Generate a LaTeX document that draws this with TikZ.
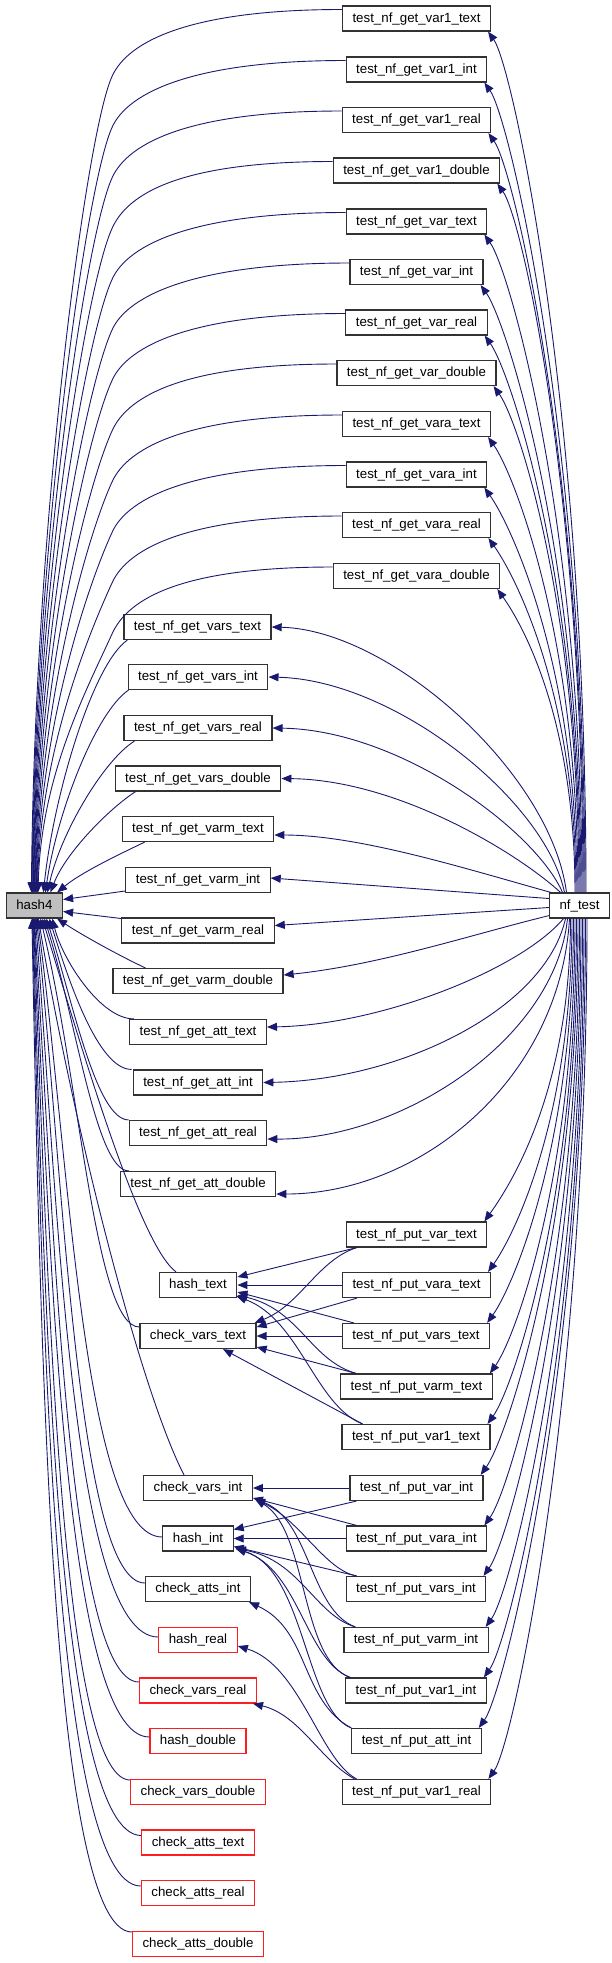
\documentclass[tikz,border=0pt]{standalone}
\usepackage{fontspec}
\setmainfont{Liberation Sans}
\usetikzlibrary{arrows.meta,calc}
\definecolor{edgec}{RGB}{25,25,112}
\definecolor{boxc}{RGB}{50,50,50}
\definecolor{redc}{RGB}{255,30,30}
\tikzset{
 fn/.style={draw=boxc, line width=1.2pt, fill=white, minimum height=25pt, inner xsep=10pt, inner ysep=0pt, font=\fontsize{13.3}{15}\selectfont, text height=9.8pt, text depth=2.8pt},
 rfn/.style={fn, draw=redc},
 e/.style={draw=edgec, line width=0.9pt, -{Triangle[length=10pt,width=8pt]}},
}
% top-right get nodes -> hash4
\newcommand\TopE[3]{\draw[e] ($(#1.west)+(0,9)$) .. controls +(-150,0) and (128,{-(#2+22)}) .. (112,{-(#2+58)}) .. controls (86,{-(#2+115)}) and ($(hash4.north)+({#3+3},{0.45*(835-#2)})$) .. ($(hash4.north)+(#3,0)$);}
% nf_test -> top right nodes
\newcommand\NfTop[3]{\draw[e] ($(nf.north)+(#3,0)$) .. controls ($(nf.north)+(#3,{0.55*(893-#2)})$) and ($(#1.south east)+(22,-35)$) .. ($(#1.south east)+(-3,0)$);}
% nf_test -> put nodes
\newcommand\NfPut[3]{\draw[e] ($(nf.south)+(#3,0)$) .. controls ($(nf.south)+(#3,{-0.55*(#2-918)})$) and ($(#1.north east)+(22,35)$) .. ($(#1.north east)+(-3,0)$);}
% lower-left nodes -> hash4 bottom
\newcommand\LowE[5]{\draw[e] #1 .. controls (#3,{-(#2)}) and (#4,{-(918+0.4*(#2-918))}) .. ($(hash4.south)+(#5,0)$);}
\begin{document}
\begin{tikzpicture}[x=1pt,y=1pt]
\useasboundingbox (0,0) rectangle (612,-1963);
% main nodes
\node[fn, fill={rgb,255:red,191;green,191;blue,191}] (hash4) at (34.4,-905.5) {hash4};
\node[fn] (nf) at (579.5,-905.5) {nf\_test};
% right column get
\node[fn] (g1t) at (416.5,-18.5) {test\_nf\_get\_var1\_text};
\node[fn] (g1i) at (416.5,-69.5) {test\_nf\_get\_var1\_int};
\node[fn] (g1r) at (416.5,-120) {test\_nf\_get\_var1\_real};
\node[fn] (g1d) at (416.5,-170.5) {test\_nf\_get\_var1\_double};
\node[fn] (gvt) at (416.5,-221.5) {test\_nf\_get\_var\_text};
\node[fn] (gvi) at (416.5,-272) {test\_nf\_get\_var\_int};
\node[fn] (gvr) at (416.5,-322.5) {test\_nf\_get\_var\_real};
\node[fn] (gvd) at (416.5,-373) {test\_nf\_get\_var\_double};
\node[fn] (gat) at (416.5,-424) {test\_nf\_get\_vara\_text};
\node[fn] (gai) at (416.5,-474.5) {test\_nf\_get\_vara\_int};
\node[fn] (gar) at (416.5,-525) {test\_nf\_get\_vara\_real};
\node[fn] (gad) at (416.5,-576) {test\_nf\_get\_vara\_double};
% middle column get
\node[fn] (gst) at (197.5,-627) {test\_nf\_get\_vars\_text};
\node[fn] (gsi) at (198,-677) {test\_nf\_get\_vars\_int};
\node[fn] (gsr) at (198,-728) {test\_nf\_get\_vars\_real};
\node[fn] (gsd) at (198,-778.5) {test\_nf\_get\_vars\_double};
\node[fn] (gmt) at (198,-829) {test\_nf\_get\_varm\_text};
\node[fn] (gmi) at (198,-880) {test\_nf\_get\_varm\_int};
\node[fn] (gmr) at (198,-930.5) {test\_nf\_get\_varm\_real};
\node[fn] (gmd) at (198,-981) {test\_nf\_get\_varm\_double};
\node[fn] (gtt) at (198,-1032) {test\_nf\_get\_att\_text};
\node[fn] (gti) at (198,-1082.5) {test\_nf\_get\_att\_int};
\node[fn] (gtr) at (198,-1133) {test\_nf\_get\_att\_real};
\node[fn] (gtd) at (198,-1184) {test\_nf\_get\_att\_double};
% lower left helpers
\node[fn] (ht) at (198,-1285) {hash\_text};
\node[fn] (cvt) at (198,-1336) {check\_vars\_text};
\node[fn] (cvi) at (198,-1488) {check\_vars\_int};
\node[fn] (hi) at (198,-1538.5) {hash\_int};
\node[fn] (cai) at (198,-1589) {check\_atts\_int};
\node[rfn] (hr) at (198,-1640) {hash\_real};
\node[rfn] (cvr) at (198,-1690.5) {check\_vars\_real};
\node[rfn] (hd) at (198,-1741) {hash\_double};
\node[rfn] (cvd) at (198,-1792) {check\_vars\_double};
\node[rfn] (cat) at (198,-1842.5) {check\_atts\_text};
\node[rfn] (car) at (198,-1893) {check\_atts\_real};
\node[rfn] (cad) at (198,-1944) {check\_atts\_double};
% put nodes
\node[fn] (pvt) at (416.5,-1234.5) {test\_nf\_put\_var\_text};
\node[fn] (pat) at (416.5,-1285) {test\_nf\_put\_vara\_text};
\node[fn] (pst) at (416,-1336) {test\_nf\_put\_vars\_text};
\node[fn] (pmt) at (416.5,-1386.5) {test\_nf\_put\_varm\_text};
\node[fn] (p1t) at (416,-1437) {test\_nf\_put\_var1\_text};
\node[fn] (pvi) at (416.5,-1488) {test\_nf\_put\_var\_int};
\node[fn] (pai) at (416.5,-1538.5) {test\_nf\_put\_vara\_int};
\node[fn] (psi) at (416,-1589) {test\_nf\_put\_vars\_int};
\node[fn] (pmi) at (416,-1640) {test\_nf\_put\_varm\_int};
\node[fn] (p1i) at (416,-1690.5) {test\_nf\_put\_var1\_int};
\node[fn] (pti) at (416.5,-1741) {test\_nf\_put\_att\_int};
\node[fn] (p1r) at (416.5,-1792) {test\_nf\_put\_var1\_real};

% ---- top-right get nodes -> hash4
\TopE{g1t}{18.5}{-3}
\TopE{g1i}{69.5}{-2.4}
\TopE{g1r}{120}{-1.8}
\TopE{g1d}{170.5}{-1.2}
\TopE{gvt}{221.5}{-0.6}
\TopE{gvi}{272}{0}
\TopE{gvr}{322.5}{0.6}
\TopE{gvd}{373}{1.2}
\TopE{gat}{424}{1.8}
\TopE{gai}{474.5}{2.4}
\TopE{gar}{525}{3}
\TopE{gad}{576}{3.6}
% ---- middle get nodes above hash4
\draw[e] ($(gst.south west)+(4,0)$) .. controls (93,-664) and (54,-793) .. ($(hash4.north)+(9,0)$);
\draw[e] ($(gsi.south west)+(1,0)$) .. controls (96,-712) and (57,-812) .. ($(hash4.north)+(11,0)$);
\draw[e] ($(gsr.south west)+(11,0)$) .. controls (104,-760) and (61,-832) .. ($(hash4.north)+(13,0)$);
\draw[e] ($(gsd.south west)+(21,0)$) .. controls (110,-808) and (66,-852) .. ($(hash4.north)+(16,0)$);
\draw[e] ($(gmt.south west)+(23,0)$) .. controls (118,-855) and (82,-872) .. ($(hash4.north east)+(-6,0)$);
\draw[e] ($(gmi.west)+(0,-11)$) -- ($(hash4.east)+(0,6)$);
\draw[e] ($(gmr.west)+(0,12)$) -- ($(hash4.east)+(0,-6)$);
\draw[e] ($(gmd.north west)+(33,0)$) .. controls (118,-955) and (82,-935) .. ($(hash4.south east)+(-6,0)$);
% ---- middle get nodes below hash4
\LowE{($(gtt.north west)+(5,0)$)}{1019}{100}{62}{18}
\LowE{($(gti.north west)+(-1,0)$)}{1070}{98}{68}{15}
\LowE{($(gtr.north west)+(0,0)$)}{1120}{96}{72}{12}
\LowE{($(gtd.north west)+(9,0)$)}{1171}{96}{76}{10}
% ---- lower helpers -> hash4
\draw[e] ($(ht.north)+(-22,0)$) .. controls (140,-1245) and (85,-1060) .. ($(hash4.south)+(8,0)$);
\LowE{($(cvt.west)+(0,9)$)}{1327}{95}{80}{6}
\draw[e] ($(cvi.north)+(-14,0)$) .. controls (140,-1390) and (72,-1120) .. ($(hash4.south)+(4,0)$);
\LowE{($(hi.west)+(0,1.5)$)}{1537}{84}{70}{3}
\LowE{($(cai.west)+(0,6)$)}{1583}{78}{64}{2}
\LowE{($(hr.west)+(0,3)$)}{1637}{72}{58}{1}
\LowE{($(cvr.west)+(0,8.5)$)}{1682}{68}{54}{0}
\LowE{($(hd.west)+(0,4)$)}{1737}{64}{50}{-0.5}
\LowE{($(cvd.west)+(0,12)$)}{1780}{60}{47}{-1}
\LowE{($(cat.west)+(0,7)$)}{1835}{56}{44}{-1.5}
\LowE{($(car.west)+(0,7)$)}{1886}{53}{42}{-2}
\LowE{($(cad.west)+(0,12)$)}{1932}{50}{40}{-2.5}
% ---- nf_test -> top-right get nodes
\NfTop{g1t}{18.5}{6.5}
\NfTop{g1i}{69.5}{5.5}
\NfTop{g1r}{120}{4.5}
\NfTop{g1d}{170.5}{3.5}
\NfTop{gvt}{221.5}{2.5}
\NfTop{gvi}{272}{1.5}
\NfTop{gvr}{322.5}{0.5}
\NfTop{gvd}{373}{-0.5}
\NfTop{gat}{424}{-1.5}
\NfTop{gai}{474.5}{-2.5}
\NfTop{gar}{525}{-3.5}
\NfTop{gad}{576}{-4.5}
% ---- nf_test -> middle get nodes
\draw[e] ($(nf.north)+(-13,0)$) .. controls (551,-773) and (391,-630) .. (gst.east);
\draw[e] ($(nf.north)+(-15,0)$) .. controls (545,-800) and (395,-680) .. (gsi.east);
\draw[e] ($(nf.north)+(-17,0)$) .. controls (535,-830) and (400,-730) .. (gsr.east);
\draw[e] ($(nf.north)+(-19,0)$) .. controls (520,-855) and (400,-780) .. (gsd.east);
\draw[e] ($(nf.north west)+(2,0)$) .. controls (470,-870) and (360,-835) .. ($(gmt.east)+(0,-6)$);
\draw[e] ($(nf.west)+(0,7)$) -- ($(gmi.east)+(0,2)$);
\draw[e] ($(nf.west)+(0,-2)$) -- ($(gmr.east)+(0,5)$);
\draw[e] ($(nf.south west)+(0,3)$) .. controls (470,-935) and (380,-965) .. ($(gmd.east)+(0,6)$);
\draw[e] ($(nf.south)+(-16,0)$) .. controls (520,-970) and (380,-1025) .. ($(gtt.east)+(0,5)$);
\draw[e] ($(nf.south)+(-14,0)$) .. controls (545,-1010) and (400,-1080) .. (gti.east);
\draw[e] ($(nf.south)+(-12,0)$) .. controls (555,-1040) and (400,-1140) .. ($(gtr.east)+(0,-6)$);
\draw[e] ($(nf.south)+(-10,0)$) .. controls (560,-1080) and (420,-1194) .. ($(gtd.east)+(0,-10)$);
% ---- nf_test -> put nodes
\NfPut{pvt}{1234.5}{-9}
\NfPut{pat}{1285}{-7.5}
\NfPut{pst}{1336}{-6}
\NfPut{pmt}{1386.5}{-4.5}
\NfPut{p1t}{1437}{-3}
\NfPut{pvi}{1488}{-1.5}
\NfPut{pai}{1538.5}{0}
\NfPut{psi}{1589}{1.5}
\NfPut{pmi}{1640}{3}
\NfPut{p1i}{1690.5}{4.5}
\NfPut{pti}{1741}{6}
\NfPut{p1r}{1792}{7.5}
% ---- put text group -> hash_text / check_vars_text
\draw[e] ($(pvt.south west)+(11,0)$) -- ($(ht.east)+(0,8)$);
\draw[e] ($(pvt.south west)+(11,0)$) .. controls (318,-1260) and (300,-1305) .. ($(cvt.north east)+(-2,0)$);
\draw[e] (pat.west) -- (ht.east);
\draw[e] ($(pat.south west)+(15,0)$) -- ($(cvt.east)+(0,9)$);
\draw[e] (pst.west) -- (cvt.east);
\draw[e] ($(pst.north west)+(12,0)$) -- ($(ht.east)+(0,-7)$);
\draw[e] ($(pmt.north west)+(16,0)$) -- ($(cvt.east)+(0,-11)$);
\draw[e] ($(pmt.north west)+(16,0)$) .. controls (310,-1360) and (300,-1310) .. ($(ht.south east)+(0,3)$);
\draw[e] ($(p1t.north west)+(21,0)$) -- ($(cvt.south)+(25,0)$);
\draw[e] ($(p1t.north west)+(21,0)$) .. controls (315,-1405) and (300,-1320) .. ($(ht.south east)+(-1,2)$);
% ---- put int group -> check_vars_int / hash_int
\draw[e] (pvi.west) -- (cvi.east);
\draw[e] ($(pvi.south west)+(7,0)$) -- ($(hi.east)+(0,9)$);
\draw[e] (pai.west) -- (hi.east);
\draw[e] ($(pai.north west)+(11,0)$) -- ($(cvi.east)+(0,-10)$);
\draw[e] ($(psi.north west)+(11,0)$) -- ($(hi.east)+(0,-8)$);
\draw[e] ($(psi.north west)+(11,0)$) .. controls (325,-1570) and (300,-1520) .. ($(cvi.south east)+(2,2)$);
\draw[e] ($(pmi.north west)+(12,0)$) .. controls (310,-1610) and (310,-1520) .. ($(cvi.south east)+(2,2)$);
\draw[e] ($(pmi.north west)+(12,0)$) .. controls (315,-1615) and (300,-1560) .. ($(hi.south east)+(2,3)$);
\draw[e] ($(p1i.north west)+(5,0)$) .. controls (300,-1660) and (308,-1530) .. ($(cvi.south east)+(2,2)$);
\draw[e] ($(p1i.north west)+(5,0)$) .. controls (305,-1660) and (300,-1570) .. ($(hi.south east)+(2,3)$);
\draw[e] (pti.north west) .. controls (305,-1710) and (305,-1570) .. ($(hi.south east)+(2,3)$);
\draw[e] (pti.north west) .. controls (300,-1700) and (310,-1630) .. ($(cai.south east)+(-2,0)$);
% ---- put real -> hash_real / check_vars_real
\draw[e] ($(p1r.north west)+(15,0)$) .. controls (320,-1760) and (300,-1665) .. ($(hr.east)+(0,-6)$);
\draw[e] ($(p1r.north west)+(13,0)$) .. controls (320,-1760) and (300,-1715) .. ($(cvr.south east)+(-4,0)$);
\end{tikzpicture}
\end{document}
